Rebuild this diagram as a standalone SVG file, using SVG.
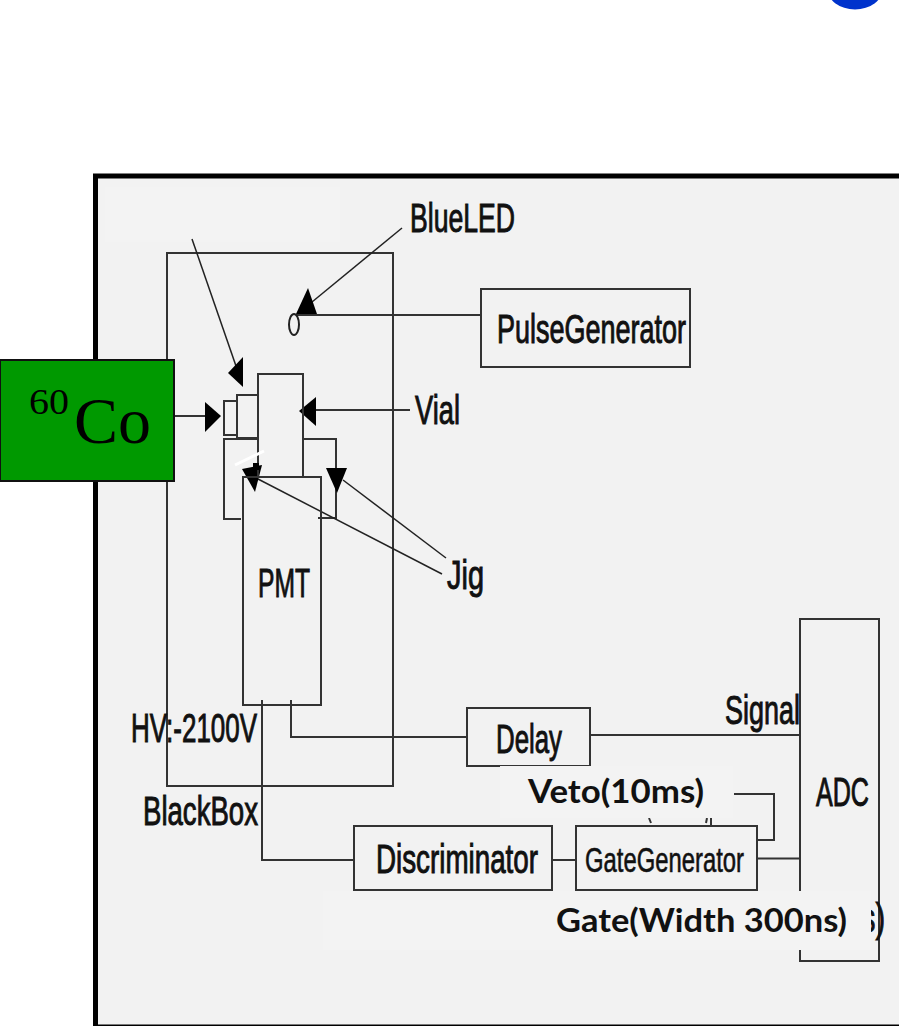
<svg xmlns="http://www.w3.org/2000/svg" width="899" height="1026" viewBox="0 0 899 1026">
<style>
.b{fill:none;stroke:#333;stroke-width:2}
.w{fill:none;stroke:#222;stroke-width:1.5}
.a{fill:#000;stroke:none}
.t{font-family:"Liberation Sans",Arial,sans-serif;font-size:41px;fill:#111;stroke:#111;stroke-width:1}
.s{font-size:35px;stroke-width:.6}
.o{font-family:Lato,"Open Sans",sans-serif;font-weight:700;font-size:32px;fill:#111}
.p{fill:#f3f3f3}
</style>
<rect width="899" height="1026" fill="#fff"/>
<ellipse id="blue-shape" cx="855" cy="-12" rx="28" ry="21.500" fill="#0033cc"/>
<rect id="panel" x="95.500" y="176" width="810" height="851" fill="#f2f2f2" stroke="#000" stroke-width="5"/>
<rect x="105" y="187" width="235" height="55" fill="#f3f3f3"/>

<g id="black-box"><rect class="b" x="167" y="253" width="226" height="533"/></g>

<g id="connectors">
<path class="b" d="M296 315H481"/>
<path class="w" d="M402 228L312 302"/>
<path class="a" d="M308 288L296 314H317Z"/>
<path class="w" d="M192 239L236 366"/>
<path class="a" d="M243 357L228 373L243 387Z"/>
<path class="b" d="M174 416H206"/>
<path class="a" d="M205 402V432L221 416Z"/>
<path class="b" d="M303 410H410"/>
<path class="a" d="M299 411L316 397V426Z"/>
<path class="b" d="M258 439H224V519H241"/>
<path class="b" d="M303 439H336V518H318"/>
<path class="w" d="M258 479L442 574"/>
<path class="a" d="M242 469L262 465L255 492Z"/>
<path class="w" d="M343 480L446 558"/>
<path class="a" d="M326 468H347L337 493Z"/>
<path class="b" d="M590 735H800"/>
<path class="b" d="M291 700V737H468"/>
<path class="b" d="M262 700V860H354"/>
<path class="b" d="M552 860H576"/>
<path class="b" d="M757 858.500H800"/>
<path class="b" d="M734 794H774V840H757"/>
<path class="b" d="M649 818L651 823M707 818L706 823M711 818V826"/>
</g>

<g id="pulse-generator"><rect class="b" x="481" y="289" width="209" height="78"/><text class="t" x="497" y="343" textLength="189" lengthAdjust="spacingAndGlyphs">PulseGenerator</text></g>
<g id="led"><ellipse cx="294" cy="324.500" rx="5" ry="10.500" fill="none" stroke="#222" stroke-width="2"/></g>
<g id="blue-led-label"><text class="t" x="410" y="232" textLength="105" lengthAdjust="spacingAndGlyphs">BlueLED</text></g>
<g id="source-holder"><rect class="b" x="224" y="401" width="13" height="34"/><rect class="b" x="237" y="395" width="21" height="43"/></g>
<g id="vial"><rect class="b" x="258" y="374" width="45" height="103"/><text class="t" x="415" y="424" textLength="45" lengthAdjust="spacingAndGlyphs">Vial</text></g>
<g id="pmt"><rect class="b" x="243" y="477" width="78" height="228"/><text class="t" x="258" y="597" textLength="52" lengthAdjust="spacingAndGlyphs">PMT</text></g>
<path d="M235 465L264 451" stroke="#fff" stroke-width="3" fill="none"/>
<path class="a" d="M253 463H259V470H253Z"/>
<g id="jig-label"><text class="t" x="447" y="589" textLength="37" lengthAdjust="spacingAndGlyphs">Jig</text></g>
<g id="hv-label"><text class="t" x="131" y="742" textLength="126" lengthAdjust="spacingAndGlyphs">HV:-2100V</text></g>
<g id="blackbox-label"><text class="t" x="143" y="825" textLength="115" lengthAdjust="spacingAndGlyphs">BlackBox</text></g>
<g id="delay"><rect class="b" x="467" y="708" width="123" height="58"/><text class="t" x="496" y="753" textLength="66" lengthAdjust="spacingAndGlyphs">Delay</text></g>
<g id="signal-label"><text class="t" x="725" y="724" textLength="75" lengthAdjust="spacingAndGlyphs">Signal</text></g>
<g id="adc"><rect class="b" x="800" y="619" width="79" height="342"/><text class="t" x="816" y="806" textLength="53" lengthAdjust="spacingAndGlyphs">ADC</text></g>
<text class="t" x="861" y="932" textLength="24" lengthAdjust="spacingAndGlyphs">s)</text>
<g id="discriminator"><rect class="b" x="354" y="826" width="198" height="64"/><text class="t" x="376" y="873" textLength="162" lengthAdjust="spacingAndGlyphs">Discriminator</text></g>
<g id="gate-generator"><rect class="b" x="576" y="826" width="181" height="64"/><text class="t s" x="585" y="872" textLength="159" lengthAdjust="spacingAndGlyphs">GateGenerator</text></g>

<rect class="p" x="500" y="766" width="233" height="52"/>
<rect class="p" x="323" y="891" width="548" height="59"/>
<g id="veto-label"><text class="o" x="528" y="803" textLength="176" lengthAdjust="spacingAndGlyphs">Veto(10ms)</text></g>
<g id="gate-label"><text class="o" x="556" y="932" textLength="291" lengthAdjust="spacingAndGlyphs">Gate(Width 300ns)</text></g>

<g id="cobalt-source"><rect x="0" y="360" width="174" height="121" fill="#009900" stroke="#111" stroke-width="2"/>
<text x="29" y="414" font-family="'Liberation Serif',serif" font-size="36" fill="#000" textLength="40" lengthAdjust="spacingAndGlyphs">60</text>
<text x="74" y="443" font-family="'Liberation Serif',serif" font-size="66" fill="#000">Co</text></g>
</svg>
